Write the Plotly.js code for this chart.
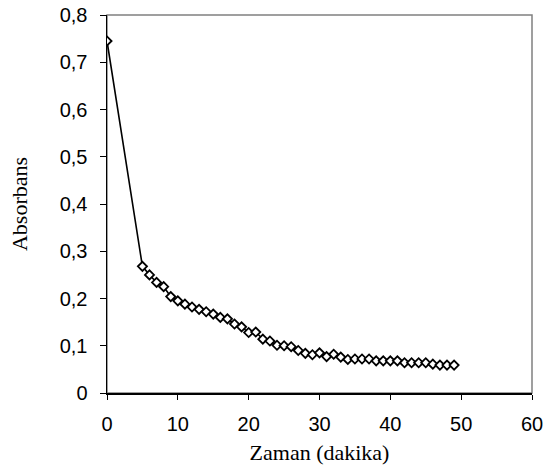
<!DOCTYPE html>
<html>
<head>
<meta charset="utf-8">
<script src="https://cdn.plot.ly/plotly-3.0.1.min.js"></script>
<style>html,body{margin:0;padding:0;background:#fff;}#chart{width:544px;height:473px;}</style>
</head>
<body>
<div id="chart"></div>
<script>
var timeMin = [0, 5, 6, 7, 8, 9, 10, 11, 12, 13, 14, 15, 16, 17, 18, 19, 20, 21, 22, 23, 24, 25, 26, 27, 28, 29, 30, 31, 32, 33, 34, 35, 36, 37, 38, 39, 40, 41, 42, 43, 44, 45, 46, 47, 48, 49];
var absorbance = [0.745, 0.268, 0.250, 0.234, 0.225, 0.204, 0.195, 0.188, 0.182, 0.177, 0.172, 0.167, 0.160, 0.157, 0.146, 0.140, 0.128, 0.129, 0.114, 0.110, 0.101, 0.100, 0.098, 0.090, 0.084, 0.081, 0.085, 0.077, 0.082, 0.076, 0.071, 0.072, 0.072, 0.072, 0.068, 0.068, 0.068, 0.068, 0.064, 0.064, 0.064, 0.064, 0.061, 0.059, 0.059, 0.059];
var xTitle = "Zaman (dakika)";
var yTitle = "Absorbans";

var SANS = "'Liberation Sans', Arial, sans-serif";
var SERIF = "'Liberation Serif', 'Times New Roman', serif";

var trace = {
  x: timeMin,
  y: absorbance,
  type: 'scatter',
  mode: 'lines+markers',
  line: {color: '#000', width: 1.6},
  marker: {symbol: 'diamond', size: 7, color: '#fff', line: {color: '#000', width: 1.8}},
  hoverinfo: 'skip'
};

var layout = {
  width: 544, height: 473,
  margin: {l: 107, r: 12, t: 15, b: 80},
  paper_bgcolor: '#fff', plot_bgcolor: '#fff',
  separators: ',.',
  showlegend: false,
  font: {family: SANS, size: 18, color: '#000'},
  xaxis: {
    range: [0, 60], dtick: 10, tick0: 0,
    showgrid: false, zeroline: false,
    showline: true, linecolor: '#000', linewidth: 1.5,
    ticks: 'outside', ticklen: 5, tickwidth: 1, tickcolor: '#000',
    ticklabelstandoff: 7,
    tickfont: {family: SANS, size: 20, color: '#000'},
    title: {text: xTitle, font: {family: SERIF, size: 22, color: '#000'}, standoff: 11}
  },
  yaxis: {
    range: [0, 0.8], dtick: 0.1, tick0: 0,
    showgrid: false, zeroline: false,
    showline: true, linecolor: '#000', linewidth: 1.5,
    ticks: 'outside', ticklen: 6, tickwidth: 1, tickcolor: '#000',
    ticklabelstandoff: 8,
    tickfont: {family: SANS, size: 20, color: '#000'},
    title: {text: yTitle, font: {family: SERIF, size: 22, color: '#000'}, standoff: 26}
  },
  shapes: [{
    type: 'rect', xref: 'paper', yref: 'paper', x0: 0, y0: 0, x1: 1, y1: 1,
    line: {color: '#808080', width: 1.5}, layer: 'below'
  }]
};

Plotly.newPlot('chart', [trace], layout, {displayModeBar: false, staticPlot: true});
</script>
</body>
</html>
